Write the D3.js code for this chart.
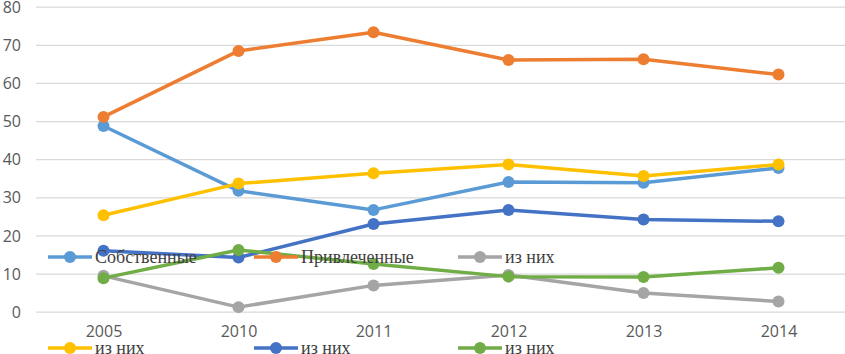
<!DOCTYPE html>
<html lang="ru">
<head>
  <meta charset="UTF-8">
  <title>Собственные и привлеченные</title>
  <style>
    body { margin: 0; background: #fff; }
    .grid line { stroke: #d9d9d9; stroke-width: 1.3; }
    .grid path { display: none; }
    .axis text { font-family: "Open Sans", "Liberation Sans", sans-serif; font-size: 16px; fill: #595959; }
    .legend text { font-family: "Liberation Serif", "DejaVu Serif", serif; font-size: 18px; fill: #404040; }
  </style>
</head>
<body>
  <div id="chart"></div>
  <script src="https://d3js.org/d3.v7.min.js"></script>
  <script>
    var width = 845, height = 354
    var years = ['2005', '2010', '2011', '2012', '2013', '2014']
    var sobstv = [48.7, 31.7, 26.7, 34.0, 33.8, 37.7]
    var privl = [51.1, 68.4, 73.3, 66.0, 66.2, 62.2]
    var izNih1 = [9.4, 1.2, 6.9, 9.6, 4.9, 2.7]
    var izNih2 = [25.3, 33.6, 36.3, 38.6, 35.6, 38.6]
    var izNih3 = [16.0, 14.2, 23.0, 26.7, 24.2, 23.7]
    var izNih4 = [8.8, 16.2, 12.5, 9.2, 9.1, 11.5]
    var yTicks = [0, 10, 20, 30, 40, 50, 60, 70, 80]

    var series = [
      { name: 'Собственные', values: sobstv, color: '#5b9bd5' },
      { name: 'Привлеченные', values: privl, color: '#ed7d31' },
      { name: 'из них', values: izNih1, color: '#a5a5a5' },
      { name: 'из них', values: izNih2, color: '#ffc000' },
      { name: 'из них', values: izNih3, color: '#4472c4' },
      { name: 'из них', values: izNih4, color: '#70ad47' }
    ]

    var svg = d3.select('#chart').append('svg')
      .attr('width', width)
      .attr('height', height)

    var x = d3.scalePoint().domain(years).range([36, 846]).padding(0.5)
    var y = d3.scaleLinear().domain([0, 80]).range([311.7, 6.7])

    // сетка и подписи оси Y
    var gy = svg.append('g')
      .attr('class', 'grid axis')
      .attr('transform', 'translate(36,0)')
      .call(d3.axisLeft(y).tickValues(yTicks).tickSize(-(width - 36)).tickPadding(15))
    gy.selectAll('text').attr('dy', '0.35em')

    // подписи оси X
    var gx = svg.append('g')
      .attr('class', 'axis')
      .attr('transform', 'translate(0,312)')
      .call(d3.axisBottom(x).tickSize(0).tickPadding(14))
    gx.select('.domain').remove()

    var line = d3.line()
      .x(function (d, i) { return x(years[i]) })
      .y(function (d) { return y(d) })

    series.forEach(function (s) {
      var g = svg.append('g')
      g.append('path')
        .attr('d', line(s.values))
        .attr('fill', 'none')
        .attr('stroke', s.color)
        .attr('stroke-width', 3.5)
        .attr('stroke-linejoin', 'round')
      g.selectAll('circle')
        .data(s.values)
        .enter()
        .append('circle')
        .attr('cx', function (d, i) { return x(years[i]) })
        .attr('cy', function (d) { return y(d) })
        .attr('r', 6)
        .attr('fill', s.color)
    })

    // легенда
    var legendX = [48, 254, 458]
    var legendY = [257, 348]
    var legend = svg.append('g').attr('class', 'legend')
    series.forEach(function (s, i) {
      var lx = legendX[i % 3], ly = legendY[Math.floor(i / 3)]
      var item = legend.append('g').attr('transform', 'translate(' + lx + ',' + ly + ')')
      item.append('line')
        .attr('x1', 0).attr('x2', 44)
        .attr('stroke', s.color)
        .attr('stroke-width', 3.5)
      item.append('circle')
        .attr('cx', 22).attr('r', 6)
        .attr('fill', s.color)
      item.append('text')
        .attr('x', 47)
        .attr('y', 6)
        .text(s.name)
    })
  </script>
</body>
</html>
